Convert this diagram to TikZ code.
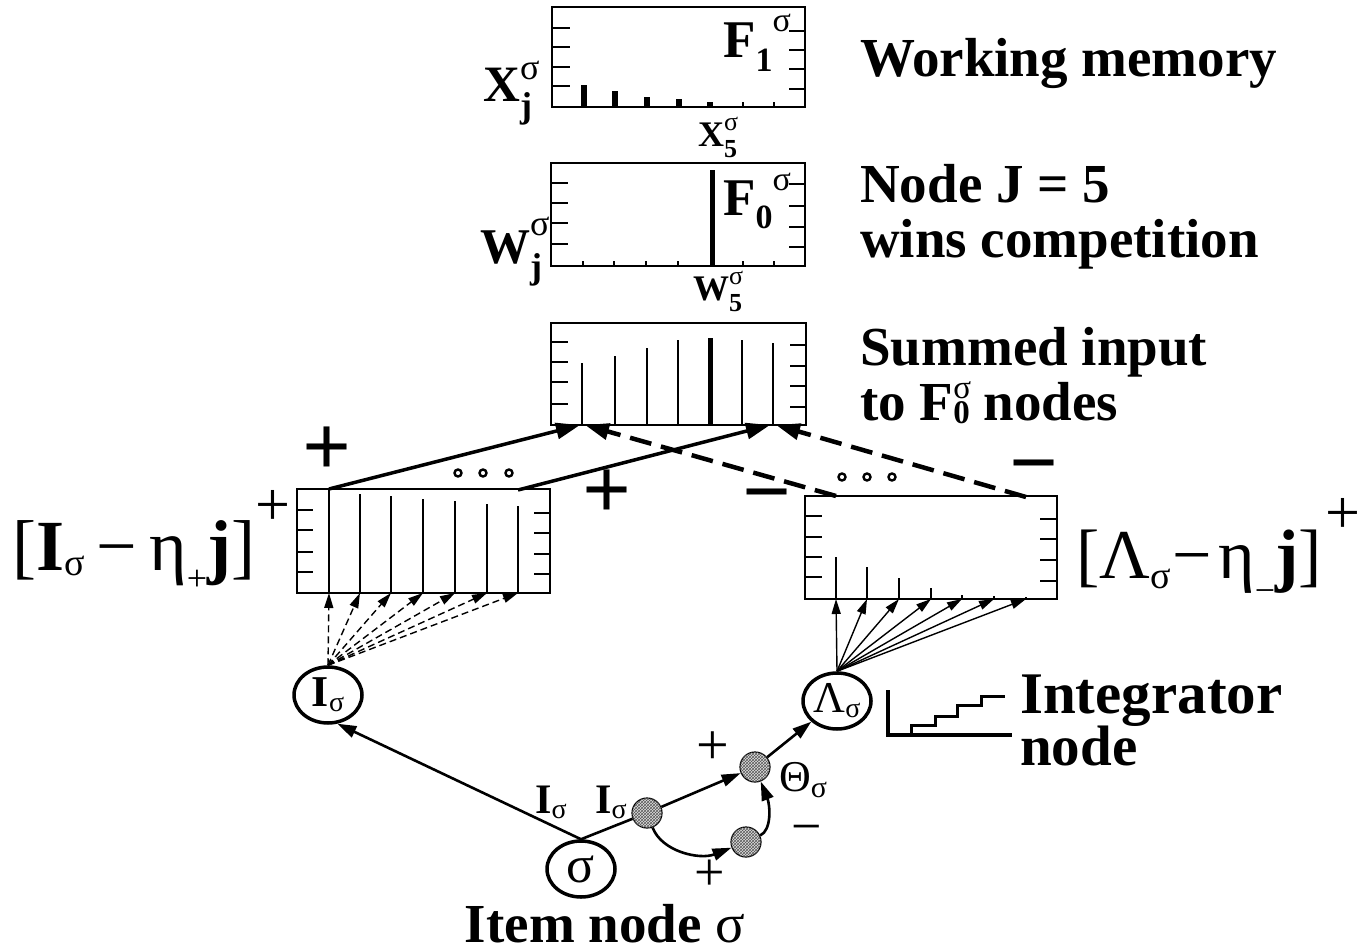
\documentclass[tikz,border=0pt]{standalone}
\usepackage{fontspec}
\setmainfont{Liberation Serif}
\usetikzlibrary{arrows.meta,shapes.geometric,patterns}
\newcommand{\fsz}[1]{\fontsize{#1}{#1}\selectfont}

\begin{document}
\begin{tikzpicture}[x=1pt,y=-1pt,
  panel/.style={draw, line width=1.6pt, inner sep=0pt},
  tick/.style={line width=1.5pt},
  bar/.style={line width=2pt},
  bigbar/.style={line width=5pt},
  histbar/.style={line width=6pt},
  unit/.style={draw, ellipse, line width=3.5pt, minimum width=68pt, minimum height=56pt, inner sep=0pt},
  gate/.style={draw, circle, line width=1.2pt, minimum size=30pt, inner sep=0pt, fill=gray!25,
               postaction={pattern=crosshatch, pattern color=black!65}},
  link/.style={line width=2.6pt},
  tip/.style={-{Triangle[length=19pt,width=12pt]}},
  bigtip/.style={-{Triangle[length=24pt,width=16pt]}},
  fantip/.style={-{Triangle[length=15pt,width=9pt]}},
  excite/.style={line width=3.5pt, bigtip},
  inhibit/.style={line width=4.5pt, dash pattern=on 22pt off 10pt, bigtip},
  fanin/.style={line width=1.4pt, dash pattern=on 7pt off 4pt, fantip},
  fanout/.style={line width=1.4pt, fantip},
  textlbl/.style={anchor=base west, inner sep=0pt, font=\bfseries\fsz{55}},
  plainlbl/.style={anchor=base west, inner sep=0pt},
  sign/.style={inner sep=0pt},
  dot/.style={line width=2.4pt}
]
\useasboundingbox (0,0) rectangle (1367,952);

% ---------- working memory panel F1 ----------
\node[panel, minimum width=253pt, minimum height=100pt] (wm) at (678.5,57) {};
\foreach \y in {28,47,67,86} \draw[tick] (552,\y) -- (570,\y);
\foreach \y in {31,50,69,89} \draw[tick] (789,\y) -- (805,\y);
\foreach \x/\t in {584/85,615/91,647/97,679/99,710/102} \draw[histbar] (\x,107) -- (\x,\t);
\foreach \x in {743,774} \draw[tick] (\x,107) -- (\x,102);
\node[plainlbl] (wmname) at (723,58) {\bfseries\fsz{53}F\fsz{34}\raisebox{-14pt}{1}\raisebox{26pt}{\mdseries σ}};
\node[plainlbl] (wmaxis) at (483,102) {\bfseries\fsz{51}X\fsz{36}\rlap{\raisebox{22pt}{\mdseries σ}}\raisebox{-16pt}{j}};
\node[plainlbl] (wmfive) at (698,147) {\bfseries\fsz{36}X\fsz{26}\rlap{\raisebox{16pt}{\mdseries σ}}\raisebox{-11pt}{5}};

% ---------- competition panel F0 ----------
\node[panel, minimum width=254pt, minimum height=103pt] (win) at (678,214.5) {};
\foreach \y in {183,203,223,244} \draw[tick] (551,\y) -- (568,\y);
\foreach \y in {184,206,227,247} \draw[tick] (789,\y) -- (805,\y);
\foreach \x in {583,614,646,678,743,774} \draw[tick] (\x,266) -- (\x,261);
\draw[bigbar] (712,266) -- (712,170);
\node[plainlbl] (winname) at (723,215) {\bfseries\fsz{53}F\fsz{34}\raisebox{-13pt}{0}\raisebox{25pt}{\mdseries σ}};
\node[plainlbl] (winaxis) at (480,263) {\bfseries\fsz{50}W\fsz{36}\rlap{\raisebox{28pt}{\mdseries σ}}\raisebox{-15pt}{j}};
\node[plainlbl] (winfive) at (693,300) {\bfseries\fsz{36}W\fsz{26}\rlap{\raisebox{16pt}{\mdseries σ}}\raisebox{-11pt}{5}};

% ---------- summed input panel ----------
\node[panel, minimum width=255pt, minimum height=102pt] (sum) at (678.5,374) {};
\foreach \y in {342,362,382,404} \draw[tick] (551,\y) -- (568,\y);
\foreach \y in {345,366,386,407} \draw[tick] (790,\y) -- (806,\y);
\foreach \x/\t in {582/363,615/356,647/348,678/340,742/340,773/343} \draw[bar] (\x,425) -- (\x,\t);
\draw[bigbar] (710,425) -- (710,338);

% ---------- excitatory panel ----------
\node[panel, minimum width=253pt, minimum height=104pt] (lbox) at (423.5,541) {};
\foreach \y in {510,530,552,572} \draw[tick] (297,\y) -- (313,\y);
\foreach \y in {513,533,554,574} \draw[tick] (534,\y) -- (550,\y);
\foreach \x/\t in {329/489,360/494,391/496,423/499,455/501,487/504,518/506} \draw[bar] (\x,593) -- (\x,\t);

% ---------- inhibitory panel ----------
\node[panel, minimum width=252pt, minimum height=103pt] (rbox) at (931,547.5) {};
\foreach \y in {516,537,557,577} \draw[tick] (805,\y) -- (822,\y);
\foreach \y in {519,539,560,581} \draw[tick] (1040,\y) -- (1057,\y);
\foreach \x/\t in {836/557,867/567,899/578,931/588,962/595,994/596,1026/597} \draw[bar] (\x,599) -- (\x,\t);

% ---------- connections into the summed input ----------
\coordinate (lfirst) at (329,489);
\coordinate (llast) at (518,490);
\coordinate (rfirst) at (836,496);
\coordinate (rlast) at (1026,497);
\coordinate (sfirstA) at (580,425);
\coordinate (sfirstB) at (585,425);
\coordinate (slastA) at (770,425);
\coordinate (slastB) at (776,425);
\draw[excite] (lfirst) -- (sfirstA);
\draw[excite] (llast) -- (slastA);
\draw[inhibit] (rfirst) -- (sfirstB);
\draw[inhibit] (rlast) -- (slastB);
\foreach \x in {458,483,509} \draw[dot] (\x,473) circle (3.5pt);
\foreach \x in {842,867,892} \draw[dot] (\x,477) circle (3.5pt);
\node[sign] (plusA) at (327,451) {\bfseries\fsz{86}+};
\node[sign] (plusB) at (607,494) {\bfseries\fsz{86}+};
\node[sign] (minusA) at (767,505) {\bfseries\fsz{86}−};
\node[sign] (minusB) at (1034,476) {\bfseries\fsz{86}−};

% ---------- panel labels ----------
\node[plainlbl] (lboxlbl) at (12,570) {\fsz{72}[\textbf{I}{\fsz{38}\raisebox{-5pt}{σ}}\,−\,η{\fsz{36}\raisebox{-20pt}{+}}\textbf{j}]{\fsz{62}\raisebox{45pt}{+}}};
\node[plainlbl] (rboxlbl) at (1076,578) {\fsz{70}[Λ{\fsz{38}\raisebox{-10pt}{σ}}\hspace{2pt}−\hspace{6pt}η{\fsz{36}\raisebox{-24pt}{−}}\textbf{j}]\hspace{4pt}{\fsz{62}\raisebox{45pt}{+}}};

% ---------- input stage ----------
\node[unit] (Isig) at (328,695) {\bfseries\fsz{44}I\fsz{28}\raisebox{-5pt}{\mdseries σ}};
\node[unit] (Lsig) at (837,701) {\fsz{44}Λ\fsz{28}\raisebox{-5pt}{σ}};
\node[unit] (sig) at (581,869) {\fsz{52}σ};
\node[gate] (g1) at (647,813) {};
\node[gate] (g2) at (755,767) {};
\node[gate] (g3) at (746,842) {};

\foreach \x in {329,360,391,423,455,487,518} \draw[fanin] (Isig.north) -- (\x,593);
\foreach \x in {836,867,899,931,962,994,1026} \draw[fanout] (Lsig.north) -- (\x,599);

\draw[link, tip] (sig.north) -- (Isig.-72);
\draw[link] (sig.north) -- (g1);
\draw[link, tip] (g1) -- (g2);
\draw[link, tip] (g2) -- (Lsig);
\draw[link, tip] (g1) .. controls (662,852) and (700,860) .. (g3);
\draw[link, tip] (g3) .. controls (772,830) and (770,805) .. (g2);

\node[plainlbl] (inA) at (535,813) {\bfseries\fsz{42}I\fsz{28}\raisebox{-5pt}{\mdseries σ}};
\node[plainlbl] (inB) at (595,813) {\bfseries\fsz{42}I\fsz{28}\raisebox{-5pt}{\mdseries σ}};
\node[plainlbl] (theta) at (779,791) {\fsz{44}Θ\fsz{30}\raisebox{-6pt}{σ}};
\node[sign] (plusC) at (713,748) {\fsz{58}+};
\node[sign] (plusD) at (710,875) {\fsz{54}+};
\node[sign] (minusC) at (807,835) {\fsz{54}−};

% ---------- integrator staircase ----------
\draw[line width=4pt] (888,690) -- (888,735) -- (1012,735);
\draw[line width=3pt] (911,735) -- (911,725) -- (935,725) -- (935,716) -- (957,716)
  -- (957,705) -- (981,705) -- (981,696) -- (1005,696);

% ---------- captions ----------
\node[textlbl] (capwm) at (860,77) {Working memory};
\node[textlbl] (capwinA) at (860,203) {Node J = 5};
\node[textlbl] (capwinB) at (860,257) {wins competition};
\node[textlbl] (capsumA) at (860,365) {Summed input};
\node[textlbl] (capsumB) at (860,420) {to F{\fsz{33}\rlap{\raisebox{22pt}{\mdseries σ}}\raisebox{-3pt}{0}} nodes};
\node[textlbl, font=\bfseries\fsz{59}] (capintA) at (1020,713) {Integrator};
\node[textlbl, font=\bfseries\fsz{57}] (capintB) at (1020,765) {node};
\node[textlbl, anchor=base] (capitem) at (605,942) {Item node {\mdseries σ}};
\end{tikzpicture}
\end{document}
